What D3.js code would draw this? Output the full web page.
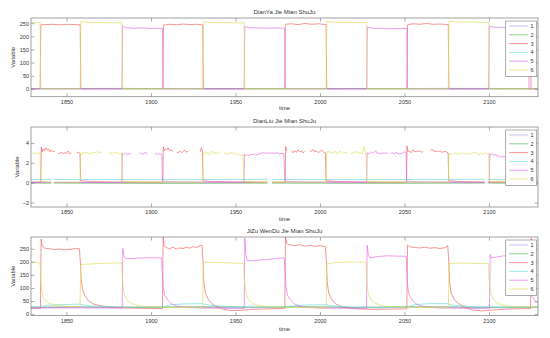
<!DOCTYPE html>
<html>
<head>
<meta charset="utf-8">
<script src="https://cdn.jsdelivr.net/npm/d3@7"></script>
<style>
  body { margin: 0; background: #fff; }
  text { font-family: "Liberation Sans", Arial, sans-serif; fill: #333; }
</style>
</head>
<body>
<svg id="chart" width="550" height="338"></svg>
<script>
// shared x range and ticks
const timeDomain = [1829, 2129];
const timeTicks = [1850, 1900, 1950, 2000, 2050, 2100];
const seriesNames = ["1", "2", "3", "4", "5", "6"];
const seriesColors = ["#a99ef0", "#55b855", "#f25a5a", "#6cdcdc", "#e466e4", "#dcdc55"];

// ---- DianYa (voltage) ----
const dyS1 = [[1829,0.5],[1870,0.8],[1910,0.4],[1950,0.6],[1990,0.5],[2030,0.7],[2070,0.4],[2129,0.5]];
const dyS2 = [[1829,1.2],[1880,1.5],[1930,1.0],[1980,1.4],[2030,1.2],[2080,1.5],[2129,1.3]];
const dyS3 = [[1829,0],[1834.4,0],[1834.8,244],[1838,245],[1842,246],[1846,244],[1850,246],[1854,245],[1858.1,244],[1858.5,0],
  [1907,0],[1907.4,243],[1911,246],[1915,244],[1919,247],[1923,245],[1927,246],[1930.6,244],[1931,0],
  [1979.1,0],[1979.5,246],[1983,248],[1987,245],[1991,249],[1995,246],[1999,248],[2003.6,245],[2004,0],
  [2051.4,0],[2051.8,244],[2055,248],[2059,246],[2063,249],[2067,246],[2071,247],[2075.9,245],[2076.3,0],
  [2124.8,0],[2125.2,236],[2129,236]];
const dyS4 = [[1829,-0.3],[1900,0],[1980,-0.2],[2060,0.1],[2129,-0.2]];
const dyS5 = [[1829,0],[1882.8,0],[1883.2,239],[1885,233],[1890,231],[1895,232],[1900,230],[1906.8,231],[1907.2,0],
  [1955.1,0],[1955.5,237],[1958,233],[1963,232],[1968,231],[1973,232],[1979.1,231],[1979.5,0],
  [2027.6,0],[2028,236],[2031,231],[2036,230],[2041,229],[2046,230],[2051.4,230],[2051.8,0],
  [2099.8,0],[2100.2,238],[2103,235],[2108,234],[2113,233],[2118,234],[2123.3,233],[2123.7,0],[2129,0]];
const dyS6 = [[1829,252],[1834.4,252],[1834.8,0],[1858.1,0],[1858.5,258],[1861,254],[1866,252],[1871,253],[1876,251],[1882.8,252],[1883.2,0],
  [1930.6,0],[1931,256],[1935,253],[1940,252],[1945,253],[1950,251],[1955.1,252],[1955.5,0],
  [2003.6,0],[2004,257],[2008,254],[2013,253],[2018,254],[2023,252],[2027.6,253],[2028,0],
  [2075.9,0],[2076.3,258],[2080,255],[2085,254],[2090,255],[2095,253],[2099.8,254],[2100.2,0],[2129,0]];

// ---- DianLiu (current) ----
const dlS1 = [[1829,0.02],[1841,0.03],[1841.1,null],[1842.5,null],[1842.6,0.02],[1900,0.0],[1968.9,0.03],[1969,null],[1971.5,null],[1971.6,0.02],
  [2040,0.0],[2097.4,0.02],[2097.5,null],[2099.5,null],[2099.6,0.02],[2129,0.02]];
const dlS2 = [[1829,-0.06],[1841,-0.05],[1841.1,null],[1842.5,null],[1842.6,-0.05],[1910,-0.08],[1968.9,-0.05],[1969,null],[1971.5,null],[1971.6,-0.05],
  [2030,-0.07],[2097.4,-0.05],[2097.5,null],[2099.5,null],[2099.6,-0.05],[2129,-0.06]];
const dlS3 = [[1829,0.05],[1834.8,0.05],[1835.1,3.6],[1835.6,3.1],[1836.3,3.4],[1837,3.2],[1837.8,3.5],[1838.6,3.25],[1839.4,3.4],[1840.2,3.1],[1841,3.3],[1842,3.1],[1843,3.2],[1843.4,null],
  [1845,null],[1845.2,3.0],[1846,2.9],[1847,3.1],[1848,2.9],[1849,3.0],[1850,2.95],[1851,3.2],[1852,2.9],[1853,3.0],[1853.4,null],
  [1855.8,null],[1856,3.0],[1857,3.05],[1858,2.95],[1858.4,0.2],[1864,0.1],[1880,0.05],[1907,0.05],
  [1907.3,3.6],[1907.8,3.2],[1908.6,3.4],[1909.4,3.3],[1910.2,3.5],[1911,3.2],[1912,3.3],[1913,3.1],[1913.4,null],
  [1915,null],[1915.2,3.1],[1916,3.0],[1917,3.2],[1918,3.0],[1919,3.15],[1920,3.25],[1921,3.05],[1922,3.2],[1922.4,null],
  [1928.8,null],[1929,3.1],[1929.8,3.5],[1930.4,3.2],[1930.8,0.2],[1936,0.1],[1955,0.05],[1968.9,0.05],[1969,null],[1971.5,null],[1971.6,0.05],[1979.4,0.05],
  [1979.7,3.65],[1980.3,3.2],[1980.4,null],
  [1983.2,null],[1983.3,3.2],[1984,3.0],[1985,3.25],[1986,3.05],[1987,3.3],[1988,3.1],[1989,3.2],[1990,3.0],[1991,3.15],[1991.2,null],
  [1994,null],[1994.1,3.1],[1995,3.2],[1996,3.35],[1997,3.1],[1998,3.2],[1999,3.0],[2000,3.15],[2001,3.25],[2002,3.1],[2003.2,3.0],[2003.6,0.2],[2010,0.1],[2030,0.05],[2051.2,0.05],
  [2051.5,3.7],[2052,3.1],[2053,3.2],[2054,3.0],[2055,3.3],[2056,3.1],[2057,3.2],[2058,3.1],[2059,3.2],[2060,3.05],[2061,3.15],[2061.3,null],
  [2065,null],[2065.2,3.2],[2066,3.35],[2067,3.3],[2068,3.1],[2069,3.2],[2070,3.1],[2071,3.2],[2072,3.05],[2073,3.1],[2074,3.15],[2075.8,3.0],[2076.2,0.2],[2082,0.1],
  [2097.4,0.05],[2097.5,null],[2099.5,null],[2099.6,0.05],[2129,0.05]];
const dlS4 = [[1829,0.32],[1841,0.33],[1841.1,null],[1842.5,null],[1842.6,0.32],[1900,0.30],[1968.9,0.33],[1969,null],[1971.5,null],[1971.6,0.32],
  [2040,0.31],[2097.4,0.33],[2097.5,null],[2099.5,null],[2099.6,0.32],[2129,0.32]];
const dlS5 = [[1829,0.03],[1841,0.03],[1841.1,null],[1842.5,null],[1842.6,0.03],[1882.8,0.03],
  [1883.1,2.9],[1884,2.85],[1885,2.95],[1886,2.8],[1887,2.9],[1888,2.9],[1888.2,null],
  [1892.8,null],[1893,2.9],[1894,3.0],[1895,2.85],[1896,2.95],[1897,3.05],[1898,2.85],[1898.5,null],
  [1902,null],[1902.2,2.85],[1903,2.95],[1904,2.8],[1905,2.9],[1906.4,2.85],[1906.8,0.15],[1915,0.08],[1955,0.05],
  [1955.3,2.85],[1956,2.75],[1957,2.8],[1958,2.7],[1959,2.85],[1960,2.8],[1961,2.9],[1962,2.75],[1963,2.85],[1964,2.9],[1965,2.95],[1966,3.0],[1967,2.95],[1968,3.0],
  [1970,2.95],[1971,3.0],[1973,2.95],[1975,3.0],[1976,2.9],[1977,2.95],[1978.6,2.9],[1979.2,0.15],[1990,0.08],[2027.6,0.05],
  [2027.9,3.0],[2029,2.9],[2030,3.1],[2031,2.95],[2032,3.05],[2033,3.2],[2034,2.95],[2035,3.0],[2036,2.9],[2037,3.0],[2038,2.95],[2039,3.0],[2040,2.9],[2040.5,null],
  [2041.5,null],[2042,2.95],[2043,3.0],[2044,2.9],[2045,3.05],[2046,2.95],[2047,2.9],[2048,2.95],[2049,3.0],[2050,3.1],[2051,2.95],[2051.3,0.15],[2060,0.08],
  [2097.4,0.05],[2097.5,null],[2099.5,null],[2099.6,0.05],[2100.2,0.05],
  [2100.5,2.95],[2101,2.8],[2102,2.9],[2103,2.75],[2104,2.85],[2105,2.6],[2106,2.7],[2107,2.55],[2108,2.65],[2110,2.6],[2111,null]];
const dlS6 = [[1829,2.9],[1830,3.05],[1831,2.85],[1832,3.0],[1833,2.9],[1834.4,3.0],[1834.8,0.15],[1838,0.08],[1841,0.05],[1841.1,null],[1842.5,null],[1842.6,0.05],[1858,0.05],
  [1858.3,3.0],[1859,2.8],[1860,3.1],[1861,2.9],[1862,3.1],[1863,2.85],[1864,3.05],[1865,2.9],[1866,3.1],[1867,3.0],[1868,3.15],[1869,2.95],[1870,3.1],[1871,3.0],[1871.4,null],
  [1874.6,null],[1875,3.0],[1876,2.9],[1877,3.1],[1878,2.95],[1879,3.0],[1880,3.05],[1881,2.9],[1882.5,3.0],[1882.9,0.15],[1890,0.08],[1930.5,0.05],
  [1930.9,3.0],[1932,2.9],[1933,3.1],[1934,2.85],[1935,3.0],[1936,3.2],[1937,2.9],[1938,3.0],[1939,2.95],[1940,3.1],[1941,3.0],[1941.4,null],
  [1943,null],[1943.2,2.9],[1944,3.0],[1945,2.8],[1946,3.0],[1947,2.9],[1948,3.1],[1949,2.85],[1950,2.95],[1951,2.8],[1952,2.85],[1953,2.75],[1954.4,2.8],[1954.8,0.15],[1960,0.08],
  [1968.9,0.05],[1969,null],[1971.5,null],[1971.6,0.05],[2003.6,0.05],
  [2004,3.0],[2005,3.2],[2006,2.95],[2007,3.1],[2008,3.0],[2009,3.2],[2010,2.9],[2011,3.05],[2012,3.15],[2013,2.95],[2014,3.1],[2015,3.0],[2016,3.05],[2016.5,null],
  [2018,null],[2018.2,3.0],[2019,2.9],[2020,3.1],[2021,3.0],[2022,3.15],[2023,2.95],[2024,3.0],[2025,2.9],[2026,3.65],[2026.6,3.0],[2027.3,2.95],[2027.7,0.15],[2035,0.08],[2076,0.05],
  [2076.3,2.9],[2077,2.95],[2078,2.85],[2079,2.9],[2080,3.0],[2081,2.9],[2082,2.85],[2083,2.95],[2084,2.9],[2085,3.0],[2086,2.9],[2087,2.95],[2088,2.85],[2089,2.9],[2090,3.0],
  [2091,2.95],[2092,3.05],[2093,2.9],[2094,2.8],[2095,2.95],[2096,2.85],[2097,2.9],[2098,3.0],[2099,2.9],[2099.8,2.95],[2100.2,0.15],[2110,0.08],[2129,0.05]];

// ---- JiZu WenDu (temperature) ----
const wdS1 = [[1829,24],[1860,26],[1883,24],[1907,27],[1930,26],[1955,24],[1979,26],[2003,27],[2028,24],[2052,26],[2076,27],[2100,24],[2129,25]];
const wdS2 = [[1829,26],[1850,28],[1875,27],[1900,26],[1930,28],[1960,27],[1990,28],[2020,26],[2050,28],[2080,27],[2110,26],[2129,27]];
const wdS3 = [[1829,22],[1834.6,22],[1835.0,287],[1835.6,262],[1837,252],[1840,250],[1843,247],[1846,249],[1849,246],[1852,248],[1855,250],[1857.6,251],
  [1858.2,200],[1858.7,130],[1859.5,95],[1861,68],[1863,50],[1866,38],[1870,32],[1876,27],[1883,24],[1895,22],[1906.8,21],
  [1907.2,296],[1907.8,262],[1909,255],[1911,250],[1913,256],[1915,249],[1917,253],[1919,251],[1921,257],[1923,252],[1925,258],[1927,255],[1929,262],[1930.2,264],
  [1930.8,200],[1931.3,120],[1932.2,80],[1934,55],[1936,40],[1939,28],[1943,18],[1948,13],[1953,14],[1960,18],[1970,20],[1979.2,22],
  [1979.6,296],[1980.3,270],[1982,265],[1985,262],[1988,266],[1991,260],[1994,263],[1997,259],[2000,262],[2003.2,258],
  [2003.8,200],[2004.3,120],[2005.2,80],[2007,55],[2009,40],[2012,30],[2016,24],[2022,20],[2030,18],[2040,19],[2051.4,20],
  [2051.8,264],[2053,258],[2056,255],[2059,253],[2062,256],[2065,252],[2068,254],[2071,251],[2074,254],[2075.6,262],
  [2076.2,200],[2076.7,120],[2077.6,80],[2079.5,55],[2082,40],[2085,28],[2090,16],[2096,12],[2105,17],[2115,20],[2124.6,21],
  [2125,290],[2126,265],[2129,262]];
const wdS4 = [[1829,28],[1834,28],[1838,33],[1845,36],[1852,37],[1858,38],[1862,33],[1870,29],[1883,27],[1895,26],[1907,28],[1912,36],[1920,39],[1930,40],
  [1935,34],[1945,29],[1960,26],[1979,27],[1985,33],[1995,35],[2003,36],[2008,31],[2020,27],[2040,25],[2051,27],[2056,36],[2065,40],[2075,40],
  [2080,33],[2090,28],[2099,27],[2100,36],[2101,28],[2110,27],[2129,28]];
const wdS5 = [[1829,24],[1883,23],[1883.3,251],[1884,222],[1885,212],[1888,212],[1892,214],[1896,215],[1900,216],[1906.2,215],
  [1906.8,150],[1907.3,100],[1908.2,72],[1910,52],[1912,40],[1915,31],[1920,26],[1930,23],[1945,22],[1955.2,22],
  [1955.5,290],[1956.2,225],[1957,205],[1960,204],[1965,207],[1970,210],[1975,213],[1978.8,215],
  [1979.4,150],[1979.9,100],[1980.8,72],[1982.6,52],[1984.6,40],[1987.6,31],[1992,26],[2000,23],[2015,22],[2027.6,22],
  [2027.9,264],[2028.6,228],[2029.5,215],[2032,218],[2036,221],[2040,223],[2045,222],[2051,221],
  [2051.5,150],[2052,100],[2052.9,72],[2054.7,52],[2056.7,40],[2059.7,31],[2064,26],[2072,23],[2085,22],[2100.3,22],
  [2100.7,228],[2101.5,214],[2104,218],[2108,222],[2112,224],[2118,225],[2123.3,225],
  [2123.8,150],[2124.3,100],[2125.2,72],[2127,52],[2129,42]];
const wdS6 = [[1829,200],[1832,198],[1834.4,192],[1834.9,120],[1835.5,80],[1836.5,60],[1838,48],[1840,40],[1844,33],[1850,30],[1858,28],
  [1858.4,188],[1860,190],[1865,192],[1870,194],[1875,195],[1882.6,196],
  [1883.1,130],[1883.6,95],[1884.5,70],[1886,52],[1888,42],[1891,34],[1896,29],[1906,26],[1920,25],[1930.6,24],
  [1930.9,198],[1935,198],[1940,197],[1945,196],[1950,195],[1954.8,194],
  [1955.3,130],[1955.8,95],[1956.7,70],[1958,52],[1960,42],[1963,34],[1968,29],[1978,26],[1990,25],[2003.7,24],
  [2004,192],[2008,196],[2012,198],[2016,200],[2020,199],[2027.2,198],
  [2027.7,130],[2028.2,95],[2029,70],[2030.5,52],[2032.5,42],[2035.5,34],[2040,29],[2050,26],[2065,25],[2076,24],
  [2076.3,193],[2080,195],[2085,195],[2090,194],[2099.6,194],
  [2100.1,130],[2100.6,95],[2101.5,70],[2103,52],[2105,42],[2108,34],[2113,29],[2129,26]];

const panels = [
  { title: "DianYa Jie Mian ShuJu", top: 18, bottom: 96.7, yDomain: [-30, 270], yTicks: [0, 50, 100, 150, 200, 250],
    series: [dyS1, dyS2, dyS3, dyS4, dyS5, dyS6], ylabX: 15, xlabY: 109.5 },
  { title: "DianLiu Jie Mian ShuJu", top: 127, bottom: 207, yDomain: [-2.45, 5.6], yTicks: [-2, 0, 2, 4],
    series: [dlS1, dlS2, dlS3, dlS4, dlS5, dlS6], ylabX: 19, xlabY: 220.5 },
  { title: "JiZu WenDu Jie Mian ShuJu", top: 237, bottom: 315.5, yDomain: [-5.5, 295], yTicks: [0, 50, 100, 150, 200, 250],
    series: [wdS1, wdS2, wdS3, wdS4, wdS5, wdS6], ylabX: 14.5, xlabY: 330.5 }
];

const left = 31, right = 538;
const axisColor = "#8a8a8a";
const svg = d3.select("#chart");

panels.forEach((p, i) => {
  const x = d3.scaleLinear().domain(timeDomain).range([left, right]);
  const y = d3.scaleLinear().domain(p.yDomain).range([p.bottom, p.top]);
  const g = svg.append("g");

  g.append("clipPath").attr("id", "clip" + i)
    .append("rect").attr("x", left).attr("y", p.top)
    .attr("width", right - left).attr("height", p.bottom - p.top);

  const line = d3.line()
    .defined(d => d[1] !== null)
    .x(d => x(d[0]))
    .y(d => y(d[1]));

  const lines = g.append("g").attr("clip-path", "url(#clip" + i + ")");
  p.series.forEach((s, k) => {
    lines.append("path")
      .attr("d", line(s))
      .attr("fill", "none")
      .attr("stroke", seriesColors[k])
      .attr("stroke-width", 0.65);
  });

  // axes, MATLAB style: ticks inside on all four sides
  const xb = g.append("g").attr("transform", "translate(0," + p.bottom + ")")
    .call(d3.axisBottom(x).tickValues(timeTicks).tickSize(-3.5).tickPadding(3.5).tickFormat(d3.format("d")));
  const xt = g.append("g").attr("transform", "translate(0," + p.top + ")")
    .call(d3.axisTop(x).tickValues(timeTicks).tickSize(-3.5).tickFormat(""));
  const yl = g.append("g").attr("transform", "translate(" + left + ",0)")
    .call(d3.axisLeft(y).tickValues(p.yTicks).tickSize(-3.5).tickPadding(2));
  const yr = g.append("g").attr("transform", "translate(" + right + ",0)")
    .call(d3.axisRight(y).tickValues(p.yTicks).tickSize(-3.5).tickFormat(""));
  [xb, xt, yl, yr].forEach(a => {
    a.select(".domain").remove();
    a.selectAll("line").attr("stroke", axisColor).attr("stroke-width", 0.7);
    a.selectAll("text").attr("font-size", 5.5).attr("fill", "#333");
  });

  g.append("rect")
    .attr("x", left).attr("y", p.top)
    .attr("width", right - left).attr("height", p.bottom - p.top)
    .attr("fill", "none").attr("stroke", axisColor).attr("stroke-width", 0.8);

  g.append("text").attr("x", (left + right) / 2).attr("y", p.top - 4.5)
    .attr("text-anchor", "middle").attr("font-size", 6).text(p.title);
  g.append("text").attr("x", (left + right) / 2).attr("y", p.xlabY)
    .attr("text-anchor", "middle").attr("font-size", 5.8).text("time");
  g.append("text")
    .attr("transform", "translate(" + p.ylabX + "," + ((p.top + p.bottom) / 2) + ") rotate(-90)")
    .attr("text-anchor", "middle").attr("font-size", 5.8).text("Variable");

  // legend
  const lg = g.append("g").attr("transform", "translate(505.7," + (p.top + 3) + ")");
  lg.append("rect").attr("width", 31).attr("height", 55.5)
    .attr("fill", "#fff").attr("stroke", axisColor).attr("stroke-width", 0.7);
  seriesNames.forEach((name, k) => {
    const ly = 5 + k * 8.8;
    lg.append("line").attr("x1", 3.5).attr("x2", 22.5).attr("y1", ly).attr("y2", ly)
      .attr("stroke", seriesColors[k]).attr("stroke-width", 0.65);
    lg.append("text").attr("x", 24.8).attr("y", ly + 2).attr("font-size", 5.5).text(name);
  });
});
</script>
</body>
</html>
